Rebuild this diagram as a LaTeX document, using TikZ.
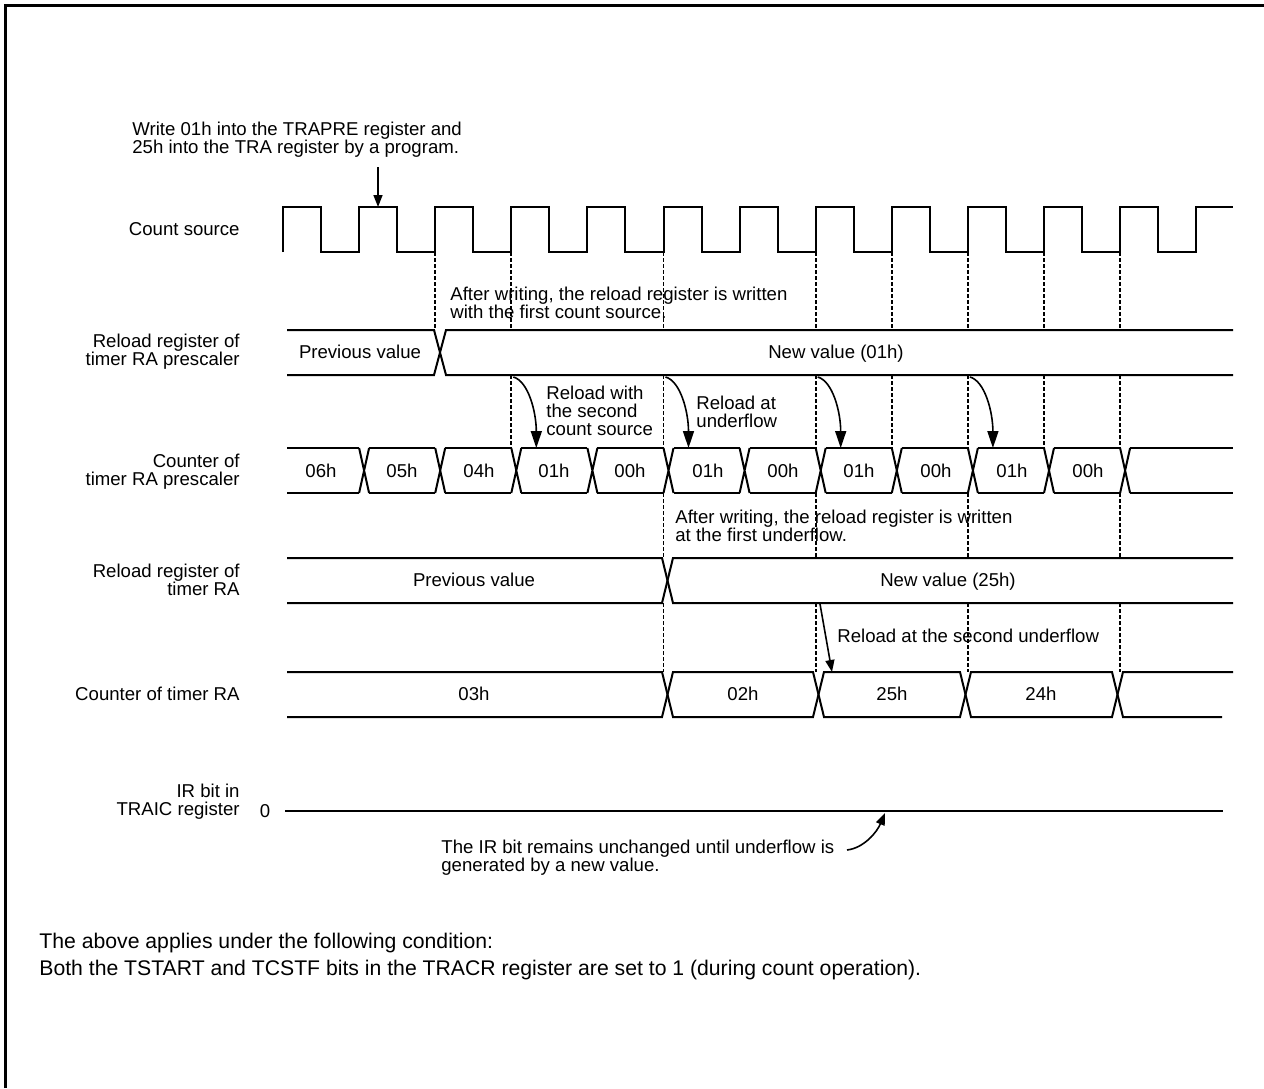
\documentclass[tikz,border=0pt]{standalone}
\usepackage{fontspec}
\setmainfont{Liberation Sans}
\usepackage{tikz}
\usetikzlibrary{arrows.meta, positioning}

\begin{document}
\begin{tikzpicture}[
  x=0.5pt, y=-0.5pt,
  font=\fontsize{9.3}{9.1}\selectfont,
  frame/.style={line width=1.5pt},
  sig/.style={line width=1pt, line join=miter},
  guide/.style={line width=0.9pt, dash pattern=on 2pt off 1pt},
  lbl/.style={anchor=east, align=right, inner sep=0pt},
  note/.style={anchor=west, align=left, inner sep=0pt},
  cond/.style={anchor=west, align=left, inner sep=0pt, font=\fontsize{10.6}{13.5}\selectfont},
  val/.style={inner sep=0pt, text height=6.7pt, text depth=0pt},
  arrow/.style={-{Triangle[length=8.5pt, width=5.5pt]}, line width=0.8pt},
  small arrow/.style={-{Triangle[length=6pt, width=4.5pt]}, line width=0.8pt}
]
\useasboundingbox (0,0) rectangle (1264,1088);
\draw[frame] (5,1088) -- (5,5) -- (1264,5);

\node[lbl] (cs)  at (240,229) {Count source};
\node[lbl] (rpl) at (240,352) {Reload register of\\timer RA prescaler};
\node[lbl] (cpl) at (240,472) {Counter of\\timer RA prescaler};
\node[lbl] (rrl) at (240,580) {Reload register of\\timer RA};
\node[lbl] (crl) at (240,694) {Counter of timer RA};
\node[lbl] (irl) at (240,802) {IR bit in\\TRAIC register};
\node[val] (zero) at (265,811) {0};

\node[note] (write) at (132,140) {Write 01h into the TRAPRE register and\\25h into the TRA register by a program.};
\node[note] (n1) at (450,303) {After writing, the reload register is written\\with the first count source.};
\node[note] (n2) at (546,411) {Reload with\\the second\\count source};
\node[note] (n3) at (696,412) {Reload at\\underflow};
\node[note] (n4) at (675,526) {After writing, the reload register is written\\at the first underflow.};
\node[note] (n5) at (837,636) {Reload at the second underflow};
\node[note] (n6) at (441,858) {The IR bit remains unchanged until underflow is\\generated by a new value.};
\node[cond] (n7) at (39,957) {The above applies under the following condition:\\Both the TSTART and TCSTF bits in the TRACR register are set to 1 (during count operation).};

\draw[sig] (283,252) foreach \k in {0,...,11} { -- ++(0,-45) -- ++(38,0) -- ++(0,45) -- ++(38.1,0) } -- ++(0,-45) -- ++(37,0);

\foreach \e in {435.2,511.3,663.5,815.7,891.8,967.9,1044,1120.1}
  \draw[guide] (\e,252) -- (\e,330);
\foreach \e in {511.3,663.5,815.7,891.8,967.9,1044,1120.1}
  \draw[guide] (\e,375) -- (\e,448);
\foreach \e in {663.5,815.7,967.9,1120.1}
  \draw[guide] (\e,493) -- (\e,558) (\e,603) -- (\e,672);

\draw[sig] (287,330) -- (434,330) -- (446,375) -- (1233,375);
\draw[sig] (287,375) -- (434,375) -- (446,330) -- (1233,330);
\node[val] (rpv1) at (360,352) {Previous value};
\node[val] (rpv2) at (836,352) {New value (01h)};

\foreach \k in {0,...,11} {
  \pgfmathsetmacro\xa{ifthenelse(\k==0,287,283+76.1*\k+10)}
  \pgfmathsetmacro\xb{ifthenelse(\k==11,1233,283+76.1*(\k+1))}
  \draw[sig] (\xa,448) -- (\xb,448) (\xa,493) -- (\xb,493);
}
\foreach \k in {1,...,11} {
  \pgfmathsetmacro\xa{283+76.1*\k}
  \draw[sig] (\xa,448) -- ++(10,45) (\xa,493) -- ++(10,-45);
}
\foreach \x/\v [count=\i] in {321/06h,402/05h,479/04h,554/01h,630/00h,708/01h,783/00h,859/01h,936/00h,1012/01h,1088/00h}
  \node[val] (cp\i) at (\x,471) {\v};

\draw[sig] (287,558) -- (662,558) -- (673,603) -- (1233,603);
\draw[sig] (287,603) -- (662,603) -- (673,558) -- (1233,558);
\node[val] (rrv1) at (474,580) {Previous value};
\node[val] (rrv2) at (948,580) {New value (25h)};

\draw[sig] (287,672) -- (662,672) -- (673,717) -- (813,717) -- (824,672) -- (960,672) -- (971,717) -- (1112,717) -- (1123,672) -- (1233,672);
\draw[sig] (287,717) -- (662,717) -- (673,672) -- (813,672) -- (824,717) -- (960,717) -- (971,672) -- (1112,672) -- (1123,717) -- (1222,717);
\node[val] (cr1) at (474,694) {03h};
\node[val] (cr2) at (743,694) {02h};
\node[val] (cr3) at (892,694) {25h};
\node[val] (cr4) at (1041,694) {24h};

\draw[sig] (285,811) -- (1223,811);

\coordinate (wtop) at (378,167);
\coordinate (wbot) at (378,207);
\draw[small arrow] (wtop) -- (wbot);

\foreach \e [count=\i] in {511.3,663.5,815.7,967.9} {
  \coordinate (rs\i) at (\e+2,377);
  \coordinate (re\i) at (\e+25,448);
  \draw[arrow] (rs\i) .. controls (\e+17,381) and (\e+25,412) .. (re\i);
}

\coordinate (us) at (820,604);
\coordinate (ue) at (832,672);
\draw[small arrow] (us) -- (ue);

\coordinate (is) at (847,850);
\coordinate (ie) at (885,813);
\draw[small arrow] (is) .. controls (864,848) and (877,832) .. (ie);
\end{tikzpicture}
\end{document}
